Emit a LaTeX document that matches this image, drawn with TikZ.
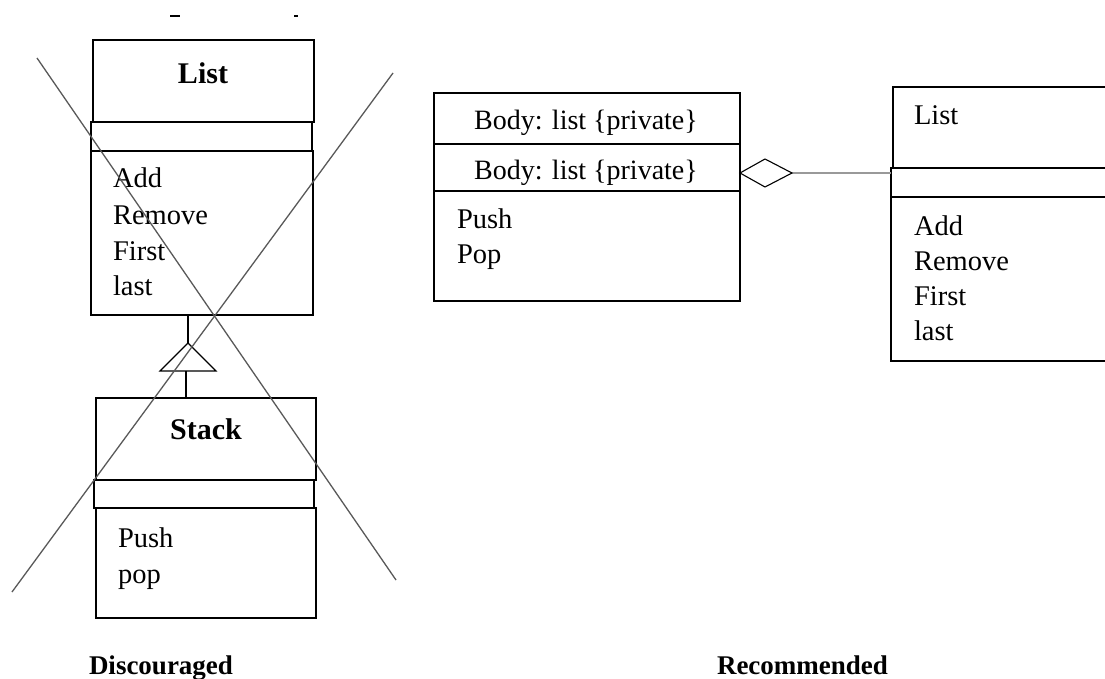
\documentclass[tikz,border=0pt]{standalone}
\usepackage{fontspec}
\setmainfont{Liberation Serif}
\tikzset{
  compart/.style={draw, line width=1.3pt, inner sep=0pt, outer sep=0pt, anchor=north west},
  txt/.style={inner sep=0pt, outer sep=0pt, anchor=base west, font=\fontsize{28.5}{35.5}\selectfont},
  ctxt/.style={inner sep=0pt, outer sep=0pt, anchor=base, font=\fontsize{28}{34}\selectfont},
  btitle/.style={inner sep=0pt, outer sep=0pt, anchor=base, font=\fontsize{30}{36}\selectfont\bfseries},
  caption/.style={inner sep=0pt, outer sep=0pt, anchor=base west, font=\fontsize{27}{32}\selectfont\bfseries},
  crossline/.style={draw=black!65, line width=1.3pt},
  uml/.style={draw, line width=1.3pt},
  agg/.style={draw=black!40, line width=2pt},
}
\begin{document}
\begin{tikzpicture}[x=1pt,y=-1pt]
\useasboundingbox (0,0) rectangle (1105,679);
\clip (0,0) rectangle (1105,679);

% cut-off marks at top
\fill (170,15) rectangle (180,17.5);
\fill (294,15) rectangle (298,17.5);

% ---------- Discouraged: List ----------
\node[compart, minimum width=221pt, minimum height=82pt] (L1) at (93,40) {};
\node[compart, minimum width=221pt, minimum height=29pt] (L2) at (91,122) {};
\node[compart, minimum width=222pt, minimum height=164pt] (L3) at (91,151) {};
\node[btitle] (Lt) at (203,84) {List};
\node[txt] (Lm1) at (113,188) {Add};
\node[txt] (Lm2) at (113,224) {Remove};
\node[txt] (Lm3) at (113,260) {First};
\node[txt] (Lm4) at (113,295) {last};

% ---------- Discouraged: Stack ----------
\node[compart, minimum width=220pt, minimum height=82pt] (S1) at (96,398) {};
\node[compart, minimum width=220pt, minimum height=28pt] (S2) at (94,480) {};
\node[compart, minimum width=220pt, minimum height=110pt] (S3) at (96,508) {};
\node[btitle] (St) at (206,439) {Stack};
\node[txt] (Sm1) at (118,547) {Push};
\node[txt] (Sm2) at (118,583) {pop};

% inheritance
\coordinate (tri) at (188,343);
\coordinate (trib) at (186,371);
\draw[uml] (L3.south -| tri) -- (tri);
\draw[uml, line width=1.1pt] (tri) -- (160,371) -- (216,371) -- cycle;
\draw[uml] (trib) -- (S1.north -| trib);

% cross
\coordinate (xa1) at (37,58);
\coordinate (xa2) at (396,580);
\coordinate (xb1) at (393,73);
\coordinate (xb2) at (12,592);
\draw[crossline] (xa1) -- (xa2);
\draw[crossline] (xb1) -- (xb2);

% ---------- Recommended: Stack ----------
\node[compart, minimum width=306pt, minimum height=51pt] (R1) at (434,93) {};
\node[compart, minimum width=306pt, minimum height=47pt] (R2) at (434,144) {};
\node[compart, minimum width=306pt, minimum height=110pt] (R3) at (434,191) {};
\node[ctxt] (Ra) at (586,130) {Body: list \{private\}};
\node[ctxt] (Rb) at (586,179) {Body: list \{private\}};
\node[txt] (Rm1) at (457,228) {Push};
\node[txt] (Rm2) at (457,263) {Pop};

% ---------- Recommended: List ----------
\node[compart, minimum width=260pt, minimum height=81pt] (RL1) at (893,87) {};
\node[compart, minimum width=260pt, minimum height=29pt] (RL2) at (891,168) {};
\node[compart, minimum width=260pt, minimum height=164pt] (RL3) at (891,197) {};
\node[txt] (RLt) at (914,125) {List};
\node[txt] (RLm1) at (914,235) {Add};
\node[txt] (RLm2) at (914,270) {Remove};
\node[txt] (RLm3) at (914,305) {First};
\node[txt] (RLm4) at (914,340) {last};

% aggregation
\coordinate (dL) at (740,173);
\coordinate (dR) at (792,173);
\draw[agg] (dR) -- (dR -| RL2.west);
\draw[line width=1.1pt] (dL) -- (765,159) -- (dR) -- (765,187) -- cycle;

% captions
\node[caption] (cap1) at (89,674) {Discouraged};
\node[caption] (cap2) at (717,674) {Recommended};
\end{tikzpicture}
\end{document}
